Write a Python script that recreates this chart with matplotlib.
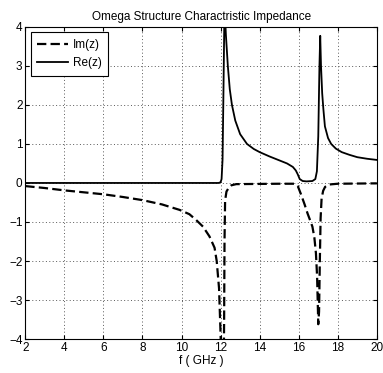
import numpy as np
from matplotlib import pyplot as plt

plt.rcParams['font.family'] = ['Liberation Sans', 'DejaVu Sans']

# Re(z)
f_re = [2, 11.9, 12.0, 12.05, 12.1, 12.15, 12.2, 12.27, 12.37, 12.47,
        12.58, 12.75, 13.0, 13.35, 13.7, 14.0, 14.5, 15.0, 15.4, 15.7,
        15.85, 15.95, 16.05, 16.2, 16.4, 16.7, 16.85, 16.93, 17.0, 17.06,
        17.1, 17.14, 17.2, 17.26, 17.34, 17.5, 17.66, 17.9, 18.2, 18.6,
        19.0, 19.5, 20]
re_z = [0, 0, 0.02, 0.1, 0.6, 2.5, 4.6, 3.8, 3.0, 2.4,
        2.0, 1.6, 1.25, 1.0, 0.87, 0.79, 0.68, 0.58, 0.5, 0.41,
        0.32, 0.22, 0.1, 0.05, 0.04, 0.05, 0.1, 0.3, 1.2, 3.0,
        3.77, 3.0, 2.3, 1.9, 1.45, 1.15, 1.0, 0.88, 0.79, 0.72,
        0.66, 0.62, 0.59]

# Im(z)
f_im = [2, 3, 4, 5, 6, 7, 8, 9, 9.9, 10.4,
        10.75, 11.1, 11.43, 11.69, 11.8, 11.92, 12.0, 12.08, 12.14, 12.18,
        12.2, 12.23, 12.3, 12.42, 12.55, 12.8, 15.0, 15.77, 15.95, 16.1,
        16.3, 16.45, 16.6, 16.7, 16.8, 16.88, 16.94, 17.0, 17.04, 17.08,
        17.12, 17.17, 17.25, 17.35, 17.55, 18.0, 20]
im_z = [-0.08, -0.13, -0.19, -0.24, -0.29, -0.36, -0.44, -0.55, -0.69, -0.8,
        -0.95, -1.12, -1.37, -1.66, -2.0, -2.7, -3.9, -6, -6, -3.5,
        -1.5, -0.45, -0.22, -0.12, -0.06, -0.03, -0.02, -0.02, -0.08, -0.27,
        -0.55, -0.78, -0.98, -1.12, -1.4, -1.8, -2.4, -3.62, -3.3, -2.0,
        -0.9, -0.4, -0.2, -0.1, -0.04, -0.02, -0.01]

xticks = [2, 4, 6, 8, 10, 12, 14, 16, 18, 20]
yticks = [-4, -3, -2, -1, 0, 1, 2, 3, 4]

fig = plt.figure(figsize=(3.83, 3.73), dpi=100)
ax = fig.add_axes([0.066, 0.091, 0.918, 0.837])

ax.plot(f_im, im_z, color="black", linestyle="--", linewidth=1.6,
        dashes=(4.2, 1.9), label="Im(z)")
ax.plot(f_re, re_z, color="black", linewidth=1.3, label="Re(z)")

ax.set_xlim(2, 20)
ax.set_ylim(-4, 4)
ax.set_xticks(xticks)
ax.set_yticks(yticks)
ax.tick_params(direction="in", length=3, labelsize=8.5, top=True, right=True, pad=2)
ax.grid(True, color="0.35", linestyle=(0, (1, 2.5)), linewidth=0.7)
for s in ax.spines.values():
    s.set_linewidth(0.8)

ax.set_title("Omega Structure Charactristic Impedance", fontsize=8.5, pad=5)
ax.set_xlabel("f ( GHz )", fontsize=8.5, labelpad=1)

leg = ax.legend(loc="upper left", fontsize=8.5, handlelength=2.6, fancybox=False,
                framealpha=1, edgecolor="black", borderaxespad=0.45,
                handletextpad=0.4, labelspacing=0.55, borderpad=0.55)
leg.get_frame().set_linewidth(0.8)

fig.savefig("out.png", dpi=100)
